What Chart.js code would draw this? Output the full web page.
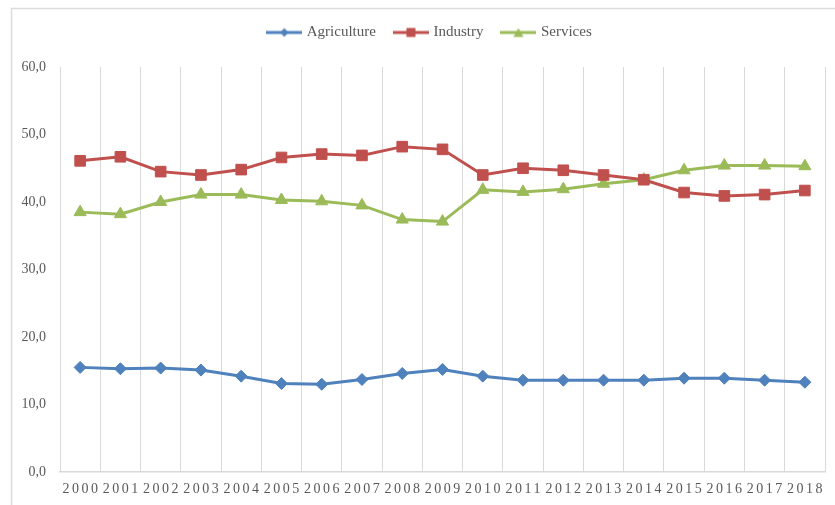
<!DOCTYPE html>
<html>
<head>
<meta charset="utf-8">
<script src="https://cdn.jsdelivr.net/npm/chart.js@4/dist/chart.umd.min.js"></script>
<style>
  html, body { margin: 0; padding: 0; background: #ffffff; }
  #wrap { width: 835px; height: 505px; position: relative; }
</style>
</head>
<body>
<div id="wrap"><canvas id="chart" width="835" height="505"></canvas></div>
<script>
// Shares of GDP by sector, 2000-2018 (%)
const years = ['2000','2001','2002','2003','2004','2005','2006','2007','2008','2009',
               '2010','2011','2012','2013','2014','2015','2016','2017','2018'];
const agriculture = [15.5, 15.3, 15.4, 15.1, 14.2, 13.1, 13.0, 13.7, 14.6, 15.2,
                     14.2, 13.6, 13.6, 13.6, 13.6, 13.9, 13.9, 13.6, 13.3];
const industry    = [46.1, 46.7, 44.5, 44.0, 44.8, 46.6, 47.1, 46.9, 48.2, 47.8,
                     44.0, 45.0, 44.7, 44.0, 43.3, 41.4, 40.9, 41.1, 41.7];
const services    = [38.5, 38.2, 40.0, 41.1, 41.1, 40.3, 40.1, 39.5, 37.4, 37.1,
                     41.8, 41.5, 41.9, 42.7, 43.3, 44.7, 45.4, 45.4, 45.3];
const yTicks = [0, 10, 20, 30, 40, 50, 60];

const COLORS = { agriculture: '#4F81BD', industry: '#C0504D', services: '#9BBB59' };
const FONT = 'Liberation Serif';
const TEXT = '#595959';
const GRID = '#D9D9D9';

// Legend keys: a short line segment with the series marker in the middle
function legendKey(color, shape) {
  const c = document.createElement('canvas');
  c.width = 36; c.height = 14;
  const g = c.getContext('2d');
  g.strokeStyle = color; g.fillStyle = color; g.lineWidth = 3;
  g.beginPath(); g.moveTo(0, 7); g.lineTo(36, 7); g.stroke();
  g.beginPath();
  if (shape === 'diamond') {
    g.moveTo(18, 2.5); g.lineTo(22, 7); g.lineTo(18, 11.5); g.lineTo(14, 7);
  } else if (shape === 'square') {
    g.rect(13.5, 2.5, 9, 9);
  } else {
    g.moveTo(18, 2.5); g.lineTo(23, 11.5); g.lineTo(13, 11.5);
  }
  g.closePath(); g.fill();
  return c;
}
const legendKeys = [
  legendKey(COLORS.agriculture, 'diamond'),
  legendKey(COLORS.industry, 'square'),
  legendKey(COLORS.services, 'triangle')
];

// Thin frame around the chart
const frame = {
  id: 'frame',
  beforeDraw(chart) {
    const ctx = chart.ctx;
    ctx.save();
    ctx.fillStyle = '#ffffff';
    ctx.fillRect(0, 0, chart.width, chart.height);
    ctx.strokeStyle = '#DCDCDC';
    ctx.lineWidth = 1.5;
    ctx.beginPath();
    ctx.moveTo(11.5, chart.height + 2);
    ctx.lineTo(11.5, 8.5);
    ctx.lineTo(chart.width + 2, 8.5);
    ctx.stroke();
    ctx.restore();
  }
};

// Wider letter spacing for the year labels, extra room under the legend
const tweaks = {
  id: 'tweaks',
  beforeInit(chart) {
    const lg = chart.legend;
    if (lg && !lg._patched) {
      const fit = lg.fit;
      lg.fit = function () { fit.call(this); this.height += 17; };
      const draw = lg.draw;
      lg.draw = function () {
        const c = this.ctx; c.save(); c.translate(18, 0); draw.call(this); c.restore();
      };
      lg._patched = true;
    }
  },
  beforeDraw(chart) {
    const sc = chart.scales.x;
    if (sc && !sc._spaced) {
      const orig = sc.drawLabels;
      sc.drawLabels = function (area) {
        const c = this.ctx; c.save(); c.letterSpacing = '2.5px'; c.translate(1.25, 0);
        orig.call(this, area); c.restore();
      };
      sc._spaced = true;
    }
  }
};

new Chart(document.getElementById('chart'), {
  type: 'line',
  data: {
    labels: years,
    datasets: [
      { label: 'Agriculture', data: agriculture, borderColor: COLORS.agriculture,
        backgroundColor: COLORS.agriculture, pointStyle: 'rectRot', pointRadius: 6 },
      { label: 'Industry', data: industry, borderColor: COLORS.industry,
        backgroundColor: COLORS.industry, pointStyle: 'rect', pointRadius: 7.5 },
      { label: 'Services', data: services, borderColor: COLORS.services,
        backgroundColor: COLORS.services, pointStyle: 'triangle', pointRadius: 7 }
    ].map(d => Object.assign(d, {
      borderWidth: 3, tension: 0, fill: false,
      pointBackgroundColor: d.borderColor, pointBorderColor: d.borderColor,
      pointBorderWidth: 1, pointHoverRadius: d.pointRadius
    }))
  },
  options: {
    responsive: false,
    animation: false,
    layout: { padding: { top: 5, right: 10, bottom: 7, left: 0 } },
    plugins: {
      tooltip: { enabled: false },
      legend: {
        position: 'top',
        labels: {
          font: { family: FONT, size: 15 },
          color: TEXT,
          usePointStyle: true,
          pointStyleWidth: 30,
          padding: 20,
          generateLabels(chart) {
            const items = Chart.defaults.plugins.legend.labels.generateLabels(chart);
            items.forEach((it, i) => { it.pointStyle = legendKeys[i]; it.fontColor = TEXT; });
            return items;
          }
        }
      }
    },
    scales: {
      x: {
        offset: true,
        afterFit(scale) { scale.height = 26; },
        grid: { display: true, offset: true, color: GRID, lineWidth: 1, drawTicks: false },
        border: { display: true, color: GRID, width: 1.5 },
        ticks: { font: { family: FONT, size: 14 }, color: TEXT, padding: 9,
                 maxRotation: 0, autoSkip: false }
      },
      y: {
        min: 0, max: 60,
        afterFit(scale) { scale.width = 60; },
        afterBuildTicks(scale) { scale.ticks = yTicks.map(v => ({ value: v })); },
        grid: { display: false, drawTicks: false },
        border: { display: false },
        ticks: {
          font: { family: FONT, size: 14 }, color: TEXT, padding: 14,
          callback: v => v.toFixed(1).replace('.', ',')
        }
      }
    }
  },
  plugins: [frame, tweaks]
});
</script>
</body>
</html>
